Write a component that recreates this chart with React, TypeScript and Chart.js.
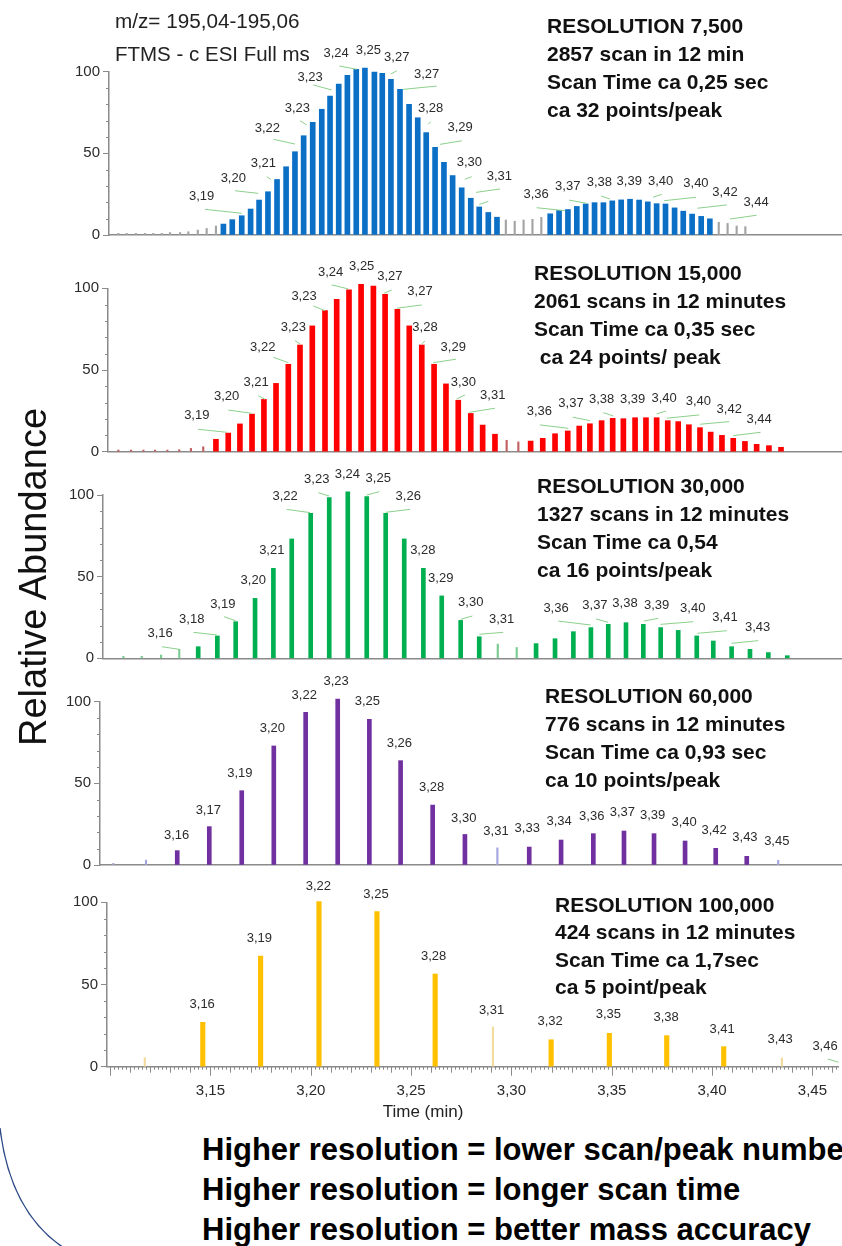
import React, { useEffect, useRef } from 'react';
import { Chart, registerables } from 'chart.js';

Chart.register(...registerables);

const FONT = '"Liberation Sans", Arial, Helvetica, sans-serif';

// ---------- axis ticks ----------
const xTickValues = [3.15, 3.2, 3.25, 3.3, 3.35, 3.4, 3.45];
const yTickValues = [0, 50, 100];
const yMinorTickValues = [10, 20, 30, 40, 60, 70, 80, 90];

// ---------- RESOLUTION 7,500 (blue) ----------
const blueTimes = [
  3.1562, 3.1606, 3.1653, 3.1697, 3.1739, 3.1783, 3.1828, 3.1873, 3.1917, 3.196, 3.2005, 3.205, 3.2091, 3.2134,
  3.2177, 3.2221, 3.2264, 3.2311, 3.235, 3.2393, 3.2438, 3.2483, 3.2526, 3.2568, 3.2612, 3.2656, 3.2699, 3.2744,
  3.2789, 3.2831, 3.2876, 3.2919,
  3.3183, 3.3227, 3.3271, 3.3315, 3.3359, 3.3403, 3.3447, 3.3491, 3.3535, 3.3579, 3.3624, 3.3667, 3.3711, 3.3755,
  3.38, 3.3843, 3.3887, 3.3932, 3.3975,
];
const blueValues = [
  6.7, 9.4, 11.8, 15.9, 21.4, 26.5, 34, 41.8, 51, 60.8, 69, 77, 85, 92.4, 97.8, 101.4, 102.2, 99.8, 99, 95.3, 89.2, 80,
  71.8, 62.7, 53.7, 44.5, 36.4, 28.9, 22.5, 17.2, 13.8, 10.9,
  13, 15, 15.6, 17.5, 19, 19.8, 19.8, 20.9, 21.5, 21.9, 21.4, 20.3, 19.2, 19, 16.6, 14.6, 12.8, 11.4, 9.9,
];
const blueMinorTimes = [
  3.1041, 3.1082, 3.1128, 3.1173, 3.1214, 3.1256, 3.1297, 3.1347, 3.1388, 3.1435, 3.1479, 3.1525,
  3.2963, 3.3007, 3.3051, 3.3095, 3.3139, 3.4019, 3.4063, 3.4108, 3.4151,
];
const blueMinorValues = [1, 1, 1, 1, 1, 1, 1.5, 1.5, 2, 3, 4, 5.5, 9.2, 8.4, 9.2, 9.6, 10.8, 7.8, 7.1, 5.5, 5.1];
const blueLabels: [string, number, number][] = [
  ['3,19', 3.1454, 23.5], ['3,20', 3.1611, 34.7], ['3,21', 3.176, 43.9], ['3,22', 3.178, 65.3],
  ['3,23', 3.1929, 77.6], ['3,23', 3.1992, 96.6], ['3,24', 3.2121, 111.3], ['3,25', 3.2281, 113.3],
  ['3,27', 3.2422, 108.8], ['3,27', 3.257, 98.6], ['3,28', 3.259, 77.6], ['3,29', 3.2736, 66],
  ['3,30', 3.2782, 44.5], ['3,31', 3.2931, 35.7], ['3,36', 3.3113, 25.1], ['3,37', 3.327, 29.6],
  ['3,38', 3.3427, 32.3], ['3,39', 3.3575, 32.6], ['3,40', 3.3731, 32.6], ['3,40', 3.3906, 31.7],
  ['3,42', 3.405, 26.1], ['3,44', 3.4204, 20],
];
const blueLeaders: [number, number, number, number][] = [
  [3.1471, 15.7, 3.1653, 13.3], [3.162, 27.1, 3.1735, 25.5], [3.1777, 35.7, 3.1797, 34.1],
  [3.181, 58.6, 3.1917, 55.7], [3.1942, 70, 3.1975, 67.4], [3.2008, 91.9, 3.2099, 88.8],
  [3.2137, 103.5, 3.2223, 101.5], [3.2393, 98.6, 3.2422, 100.6], [3.2454, 89.2, 3.262, 91.2],
  [3.2578, 67.8, 3.259, 69.4], [3.2636, 55.5, 3.2744, 57.7], [3.276, 34.1, 3.2794, 35.7],
  [3.2815, 26.1, 3.2934, 28.2], [3.2831, 18.7, 3.2876, 20.6], [3.3116, 16.7, 3.3256, 14.9],
  [3.3276, 21.4, 3.3364, 19.4], [3.3435, 23.9, 3.348, 22], [3.3694, 23.1, 3.3736, 24.9],
  [3.3748, 21, 3.3906, 23.1], [3.3913, 16.4, 3.4059, 18.4], [3.4075, 9.8, 3.4207, 12.1],
];

// ---------- RESOLUTION 15,000 (red) ----------
const redTimes = [
  3.1525, 3.1586, 3.1644, 3.1704, 3.1763, 3.1823, 3.1884, 3.1942, 3.2003, 3.2066, 3.2124, 3.2185, 3.2245, 3.2306,
  3.2364, 3.2425, 3.2484, 3.2546, 3.2607, 3.2666, 3.2727, 3.2789, 3.2848, 3.2909,
  3.3086, 3.3146, 3.3207, 3.327, 3.3327, 3.338, 3.3438, 3.3493, 3.3546, 3.3604, 3.3658, 3.3711, 3.3766, 3.3818,
  3.3871, 3.3926, 3.3979, 3.4035, 3.4091, 3.4149, 3.4207, 3.4268, 3.4328,
];
const redValues = [
  7.6, 11.4, 17, 23, 32, 41.8, 53.5, 65.3, 77, 86.3, 93.3, 99, 102.4, 101.4, 96.3, 87.1, 77, 65.3, 53.5, 41.5, 31.5,
  23.4, 16.3, 10.7,
  6.5, 8.2, 11, 12.7, 15.7, 17.1, 19, 20.4, 20.2, 20.8, 20.8, 20.8, 19, 18.4, 16.5, 14.7, 12, 10, 8.2, 6.3, 4.5, 3.7, 2.7,
];
const redMinorTimes = [3.1041, 3.1104, 3.1165, 3.1223, 3.1284, 3.1343, 3.1401, 3.1462, 3.2967, 3.3025];
const redMinorValues = [1, 1, 1, 1, 1, 1.2, 2, 3, 7, 6];
const redLabels: [string, number, number][] = [
  ['3,19', 3.143, 21.9], ['3,20', 3.1578, 33.7], ['3,21', 3.1724, 42.3], ['3,22', 3.1757, 63.9],
  ['3,23', 3.1909, 76.2], ['3,23', 3.1962, 94.9], ['3,24', 3.2094, 109.6], ['3,25', 3.2248, 113.3],
  ['3,27', 3.2388, 107.2], ['3,27', 3.2537, 98], ['3,28', 3.2562, 76.2], ['3,29', 3.2702, 63.9],
  ['3,30', 3.2752, 42.3], ['3,31', 3.2898, 34.7], ['3,36', 3.3129, 24.5], ['3,37', 3.3286, 29.6],
  ['3,38', 3.3438, 31.7], ['3,39', 3.3592, 32.1], ['3,40', 3.3748, 32.7], ['3,40', 3.3918, 30.6],
  ['3,42', 3.4071, 26.1], ['3,44', 3.4219, 20],
];
const redLeaders: [number, number, number, number][] = [
  [3.1437, 13.7, 3.1578, 11.9], [3.1586, 25.5, 3.1702, 23.5], [3.1735, 34.3, 3.1768, 32.1],
  [3.181, 57.8, 3.1884, 54.5], [3.1917, 68, 3.1942, 66], [3.2008, 89.2, 3.2066, 86.3],
  [3.2099, 102.1, 3.2182, 99.6], [3.2359, 97, 3.2397, 99], [3.2422, 87.8, 3.2546, 89.8],
  [3.2546, 66, 3.2562, 67.8], [3.2603, 54.5, 3.2716, 56.6], [3.2719, 32.3, 3.276, 34.7],
  [3.2782, 24.1, 3.2909, 26.6], [3.3132, 16.4, 3.3273, 14.3], [3.3295, 21.1, 3.338, 19],
  [3.3446, 23.9, 3.3496, 21.9], [3.3711, 23.1, 3.3757, 24.9], [3.3761, 20.5, 3.3923, 22.5],
  [3.3926, 16.8, 3.4071, 18.4], [3.4091, 9.8, 3.4227, 11.9],
];

// ---------- RESOLUTION 30,000 (green) ----------
const greenTimes = [
  3.1437, 3.1532, 3.1623, 3.1719, 3.181, 3.1901, 3.1995, 3.2087, 3.2179, 3.2273, 3.2367, 3.2459, 3.2554, 3.2645,
  3.2739, 3.2831,
  3.3113, 3.3207, 3.3298, 3.3385, 3.3471, 3.3559, 3.3645, 3.3731, 3.3818, 3.391, 3.3992, 3.4083, 3.4174, 3.4265, 3.4359,
];
const greenValues = [
  7.1, 13.7, 22.4, 36.7, 55.1, 73.1, 88.8, 98.4, 102, 99, 88.8, 73.1, 55.1, 38.2, 23.2, 13.2,
  9, 12, 16.3, 18.8, 20.8, 21.8, 20.8, 18.8, 17.1, 13.7, 10.6, 7.1, 5.5, 3.5, 1.6,
];
const greenMinorTimes = [3.1066, 3.1157, 3.1253, 3.1343, 3.2923, 3.3017];
const greenMinorValues = [1.2, 1.2, 2, 5.5, 8.7, 6.6];
const greenLabels: [string, number, number][] = [
  ['3,16', 3.1248, 15.3], ['3,18', 3.1405, 23.9], ['3,19', 3.1559, 33.1], ['3,20', 3.171, 47.5],
  ['3,21', 3.1802, 66.3], ['3,22', 3.1868, 99.4], ['3,23', 3.2025, 109.6], ['3,24', 3.2177, 112.9],
  ['3,25', 3.233, 110.2], ['3,26', 3.2479, 99.4], ['3,28', 3.2551, 66.3], ['3,29', 3.264, 49],
  ['3,30', 3.2789, 34.3], ['3,31', 3.2942, 24.1], ['3,36', 3.3212, 30.6], ['3,37', 3.3405, 32.6],
  ['3,38', 3.3554, 33.3], ['3,39', 3.3711, 32.6], ['3,40', 3.389, 30.6], ['3,41', 3.405, 25.1],
  ['3,43', 3.4212, 18.7],
];
const greenLeaders: [number, number, number, number][] = [
  [3.1256, 7.1, 3.1343, 5.5], [3.1413, 15.9, 3.1529, 14.3], [3.1565, 25.5, 3.1623, 23],
  [3.1876, 91.2, 3.1992, 89.2], [3.2033, 101.4, 3.2087, 99.4], [3.2273, 100, 3.2335, 102],
  [3.2367, 89.4, 3.2488, 91.2], [3.2739, 23.9, 3.2797, 25.9], [3.2831, 14.7, 3.295, 15.9],
  [3.3223, 22.8, 3.3384, 20.4], [3.341, 24.1, 3.3471, 22], [3.3648, 22.8, 3.3719, 24.5],
  [3.3731, 20.8, 3.3893, 22.4], [3.3913, 15.3, 3.4059, 16.9], [3.4083, 9.2, 3.4215, 10.8],
];

// ---------- RESOLUTION 60,000 (purple) ----------
const purpleTimes = [
  3.1333, 3.1492, 3.1653, 3.1812, 3.197, 3.2129, 3.2286, 3.2441, 3.26, 3.276,
  3.3079, 3.3237, 3.3397, 3.3549, 3.3698, 3.3852, 3.4004, 3.4158,
];
const purpleValues = [8.8, 23.5, 45.5, 72.9, 93.5, 101.6, 89.2, 63.9, 36.7, 18.7, 11, 15.3, 19.2, 20.8, 19.2, 14.7, 10.2, 5.3];
const purpleMinorTimes = [3.1016, 3.1178, 3.2921, 3.4314];
const purpleMinorValues = [1, 3, 10.5, 2.9];
const purpleLabels: [string, number, number][] = [
  ['3,16', 3.133, 18.4], ['3,17', 3.1487, 33.7], ['3,19', 3.1644, 56.2], ['3,20', 3.1805, 83.7],
  ['3,22', 3.1963, 104.1], ['3,23', 3.2121, 112.2], ['3,25', 3.2276, 100], ['3,26', 3.2435, 74.5],
  ['3,28', 3.2595, 47.6], ['3,30', 3.2754, 28.6], ['3,31', 3.2914, 20.8], ['3,33', 3.3069, 22.5],
  ['3,34', 3.3227, 26.9], ['3,36', 3.3389, 30], ['3,37', 3.3541, 32.3], ['3,39', 3.3691, 30.6],
  ['3,40', 3.3847, 26.1], ['3,42', 3.3996, 21.4], ['3,43', 3.4149, 17], ['3,45', 3.4307, 14.3],
];
const purpleLeaders: [number, number, number, number][] = [];

// ---------- RESOLUTION 100,000 (yellow) ----------
const yellowTimes = [3.1462, 3.175, 3.2041, 3.233, 3.262, 3.3198, 3.3488, 3.3774, 3.4058];
const yellowValues = [27, 67.3, 100.4, 94.3, 56.4, 16.4, 20.3, 18.9, 12.2];
const yellowMinorTimes = [3.1173, 3.2908, 3.4348];
const yellowMinorValues = [5.5, 24.2, 5.3];
const yellowLabels: [string, number, number][] = [
  ['3,16', 3.1459, 37.6], ['3,19', 3.1744, 78.1], ['3,22', 3.2038, 109.6], ['3,25', 3.2325, 104.9],
  ['3,28', 3.2612, 67], ['3,31', 3.2901, 34.5], ['3,32', 3.3193, 27.4], ['3,35', 3.3483, 31.5],
  ['3,38', 3.3771, 29.8], ['3,41', 3.405, 22.9], ['3,43', 3.4339, 16.3], ['3,46', 3.4563, 12.2],
];
const yellowLeaders: [number, number, number, number][] = [[3.4576, 4.7, 3.463, 2.7]];

// ---------- texts ----------
const headerLines = ['m/z= 195,04-195,06', 'FTMS - c ESI Full ms'];
const blueInfo = ['RESOLUTION 7,500', '2857 scan in 12 min', 'Scan Time ca 0,25 sec', 'ca 32 points/peak'];
const redInfo = ['RESOLUTION 15,000', '2061 scans in 12 minutes', 'Scan Time ca 0,35 sec', ' ca 24 points/ peak'];
const greenInfo = ['RESOLUTION 30,000', '1327 scans in 12 minutes', 'Scan Time ca 0,54', 'ca 16 points/peak'];
const purpleInfo = ['RESOLUTION 60,000', '776 scans in 12 minutes', 'Scan Time ca 0,93 sec', 'ca 10 points/peak'];
const yellowInfo = ['RESOLUTION 100,000', '424 scans in 12 minutes', 'Scan Time ca 1,7sec', 'ca 5 point/peak'];
const yAxisTitle = 'Relative Abundance';
const xAxisTitle = 'Time (min)';
const conclusions = [
  'Higher resolution = lower scan/peak number',
  'Higher resolution = longer scan time',
  'Higher resolution = better mass accuracy',
];

// ---------- layout calibration (pixels of the picture) ----------
const REF_TIME = 3.3;
const REF_PX = 513.3;
const PX_PER_MIN = 2016;
const WIDTH = 842;
const AXIS_COLOR = '#8a8a8a';
const LEADER_COLOR = '#8bd08b';

interface PanelCfg {
  top: number;
  y100: number;
  y0: number;
  left: number;
  below: number;
  times: number[];
  values: number[];
  color: string;
  barWidth: number;
  minorTimes: number[];
  minorValues: number[];
  minorColor: string;
  labels: [string, number, number][];
  leaders: [number, number, number, number][];
  axis: boolean;
}

const PANELS: PanelCfg[] = [
  { top: 10, y100: 71.7, y0: 235, left: 109, below: 12, times: blueTimes, values: blueValues, color: '#0b6fc6', barWidth: 5,
    minorTimes: blueMinorTimes, minorValues: blueMinorValues, minorColor: '#a4a4a4', labels: blueLabels, leaders: blueLeaders, axis: false },
  { top: 240, y100: 288.3, y0: 451.7, left: 108, below: 12, times: redTimes, values: redValues, color: '#ff0000', barWidth: 5,
    minorTimes: redMinorTimes, minorValues: redMinorValues, minorColor: '#c06060', labels: redLabels, leaders: redLeaders, axis: false },
  { top: 460, y100: 495, y0: 658.3, left: 103, below: 12, times: greenTimes, values: greenValues, color: '#00b050', barWidth: 4,
    minorTimes: greenMinorTimes, minorValues: greenMinorValues, minorColor: '#7ccb92', labels: greenLabels, leaders: greenLeaders, axis: false },
  { top: 668, y100: 701.7, y0: 865, left: 100, below: 12, times: purpleTimes, values: purpleValues, color: '#7030a0', barWidth: 4,
    minorTimes: purpleMinorTimes, minorValues: purpleMinorValues, minorColor: '#a6a6de', labels: purpleLabels, leaders: purpleLeaders, axis: false },
  { top: 872, y100: 902.3, y0: 1066.7, left: 107, below: 45, times: yellowTimes, values: yellowValues, color: '#ffc000', barWidth: 4.5,
    minorTimes: yellowMinorTimes, minorValues: yellowMinorValues, minorColor: '#f2dc9c', labels: yellowLabels, leaders: yellowLeaders, axis: true },
];

function fmt(v: number) {
  return Number(v).toFixed(2).replace('.', ',');
}

function Panel({ cfg }: { cfg: PanelCfg }) {
  const ref = useRef<HTMLCanvasElement | null>(null);
  const H = Math.ceil(cfg.y0 - cfg.top + cfg.below);
  const xh = H - (cfg.y0 - cfg.top);
  const padTop = cfg.y100 - cfg.top;
  const xMin = REF_TIME + (cfg.left - REF_PX) / PX_PER_MIN;
  const xMax = REF_TIME + (WIDTH - REF_PX) / PX_PER_MIN;

  useEffect(() => {
    if (!ref.current) return;
    const annot = {
      id: 'annot',
      afterDatasetsDraw(chart: any) {
        const { ctx, chartArea } = chart;
        const x = chart.scales.x;
        const y = chart.scales.y;
        ctx.save();
        // minor y ticks
        ctx.strokeStyle = AXIS_COLOR;
        ctx.lineWidth = 1;
        for (const v of yMinorTickValues) {
          const py = Math.round(y.getPixelForValue(v)) + 0.5;
          ctx.beginPath();
          ctx.moveTo(chartArea.left - 3, py);
          ctx.lineTo(chartArea.left, py);
          ctx.stroke();
        }
        // x tick marks on the bottom panel
        if (cfg.axis) {
          const i0 = Math.ceil(xMin * 500);
          const i1 = Math.floor(xMax * 500);
          for (let i = i0; i <= i1; i++) {
            const px = Math.round(x.getPixelForValue(i / 500)) + 0.5;
            const len = i % 25 === 0 ? 9 : i % 5 === 0 ? 6 : 3;
            ctx.beginPath();
            ctx.moveTo(px, chartArea.bottom);
            ctx.lineTo(px, chartArea.bottom + len);
            ctx.stroke();
          }
        }
        // leader lines
        ctx.strokeStyle = LEADER_COLOR;
        ctx.lineWidth = 1;
        for (const [t1, v1, t2, v2] of cfg.leaders) {
          ctx.beginPath();
          ctx.moveTo(x.getPixelForValue(t1), y.getPixelForValue(v1));
          ctx.lineTo(x.getPixelForValue(t2), y.getPixelForValue(v2));
          ctx.stroke();
        }
        // peak labels
        ctx.fillStyle = '#2b2b2b';
        ctx.font = `13px ${FONT}`;
        ctx.textAlign = 'center';
        ctx.textBaseline = 'middle';
        for (const [txt, t, v] of cfg.labels) {
          ctx.fillText(txt, x.getPixelForValue(t), y.getPixelForValue(v));
        }
        ctx.restore();
      },
    };

    const chart = new Chart(ref.current, {
      type: 'bar',
      data: {
        datasets: [
          {
            data: cfg.minorTimes.map((t, i) => ({ x: t, y: cfg.minorValues[i] })),
            backgroundColor: cfg.minorColor,
            borderWidth: 0,
            barThickness: 1.5,
            grouped: false,
            clip: false,
          } as any,
          {
            data: cfg.times.map((t, i) => ({ x: t, y: cfg.values[i] })),
            backgroundColor: cfg.color,
            borderWidth: 0,
            barThickness: cfg.barWidth,
            grouped: false,
            clip: false,
          } as any,
        ],
      },
      options: {
        animation: false,
        responsive: false,
        maintainAspectRatio: false,
        devicePixelRatio: 1,
        events: [],
        layout: { padding: { top: padTop, right: 0, bottom: 0, left: 0 } },
        plugins: { legend: { display: false }, tooltip: { enabled: false }, title: { display: false } },
        scales: {
          x: {
            type: 'linear',
            min: xMin,
            max: xMax,
            offset: false,
            grid: { display: false, drawTicks: false },
            border: { display: true, color: AXIS_COLOR, width: 1.5 },
            ticks: cfg.axis
              ? {
                  display: true,
                  autoSkip: false,
                  maxRotation: 0,
                  padding: 15,
                  color: '#2b2b2b',
                  font: { family: FONT, size: 15 },
                  callback: (v: any) => fmt(Number(v)),
                }
              : { display: false },
            afterBuildTicks: (s: any) => {
              s.ticks = xTickValues.map((v) => ({ value: v }));
            },
            afterFit: (s: any) => {
              s.height = xh;
            },
          } as any,
          y: {
            min: 0,
            max: 100,
            grid: { display: true, drawOnChartArea: false, drawTicks: true, tickLength: 6, color: AXIS_COLOR },
            border: { display: true, color: AXIS_COLOR, width: 1.5 },
            ticks: { color: '#2b2b2b', padding: 3, font: { family: FONT, size: 15 } },
            afterBuildTicks: (s: any) => {
              s.ticks = yTickValues.map((v) => ({ value: v }));
            },
            afterFit: (s: any) => {
              s.width = cfg.left;
            },
          } as any,
        },
      },
      plugins: [annot],
    });
    return () => chart.destroy();
  }, []);

  return (
    <canvas
      ref={ref}
      width={WIDTH}
      height={H}
      style={{ position: 'absolute', left: 0, top: cfg.top, width: WIDTH, height: H }}
    />
  );
}

const abs = (o: React.CSSProperties): React.CSSProperties => ({ position: 'absolute', whiteSpace: 'pre', ...o });

function InfoBlock({ lines, left, top, lh }: { lines: string[]; left: number; top: number; lh: number }) {
  return (
    <div style={abs({ left, top, fontSize: 21, lineHeight: `${lh}px`, fontWeight: 'bold', color: '#111' })}>
      {lines.map((l, i) => (
        <div key={i}>{l}</div>
      ))}
    </div>
  );
}

export default function App() {
  useEffect(() => {
    document.body.style.margin = '0';
    document.body.style.overflow = 'hidden';
  }, []);
  return (
    <div
      style={{
        position: 'absolute',
        left: 0,
        top: 0,
        width: WIDTH,
        height: 1246,
        overflow: 'hidden',
        background: '#fff',
        fontFamily: FONT,
      }}
    >
      {PANELS.map((p, i) => (
        <Panel key={i} cfg={p} />
      ))}

      <div style={abs({ left: 115, top: 9, fontSize: 20.7, lineHeight: '24px', color: '#222' })}>{headerLines[0]}</div>
      <div style={abs({ left: 115, top: 42, fontSize: 20.5, lineHeight: '24px', color: '#222' })}>{headerLines[1]}</div>

      <InfoBlock lines={blueInfo} left={547} top={12} lh={28} />
      <InfoBlock lines={redInfo} left={534} top={259} lh={28} />
      <InfoBlock lines={greenInfo} left={537} top={472} lh={28} />
      <InfoBlock lines={purpleInfo} left={545} top={682} lh={28} />
      <InfoBlock lines={yellowInfo} left={555} top={891} lh={27.3} />

      <div
        style={abs({
          left: 33 - 220,
          top: 577 - 23,
          width: 440,
          height: 46,
          lineHeight: '46px',
          textAlign: 'center',
          fontSize: 38,
          color: '#111',
          transform: 'rotate(-90deg)',
        })}
      >
        {yAxisTitle}
      </div>

      <div style={abs({ left: 423 - 60, top: 1101, width: 120, textAlign: 'center', fontSize: 17, lineHeight: '22px', color: '#222' })}>
        {xAxisTitle}
      </div>

      <div style={abs({ left: 202, top: 1130, fontSize: 31, lineHeight: '40px', fontWeight: 'bold', color: '#000' })}>
        {conclusions.map((l, i) => (
          <div key={i}>{l}</div>
        ))}
      </div>

      <svg style={{ position: 'absolute', left: 0, top: 1100 }} width={100} height={146}>
        <path d="M 0 28 Q 10 112 64 148" stroke="#2c4a86" strokeWidth={1.4} fill="none" />
      </svg>
    </div>
  );
}
